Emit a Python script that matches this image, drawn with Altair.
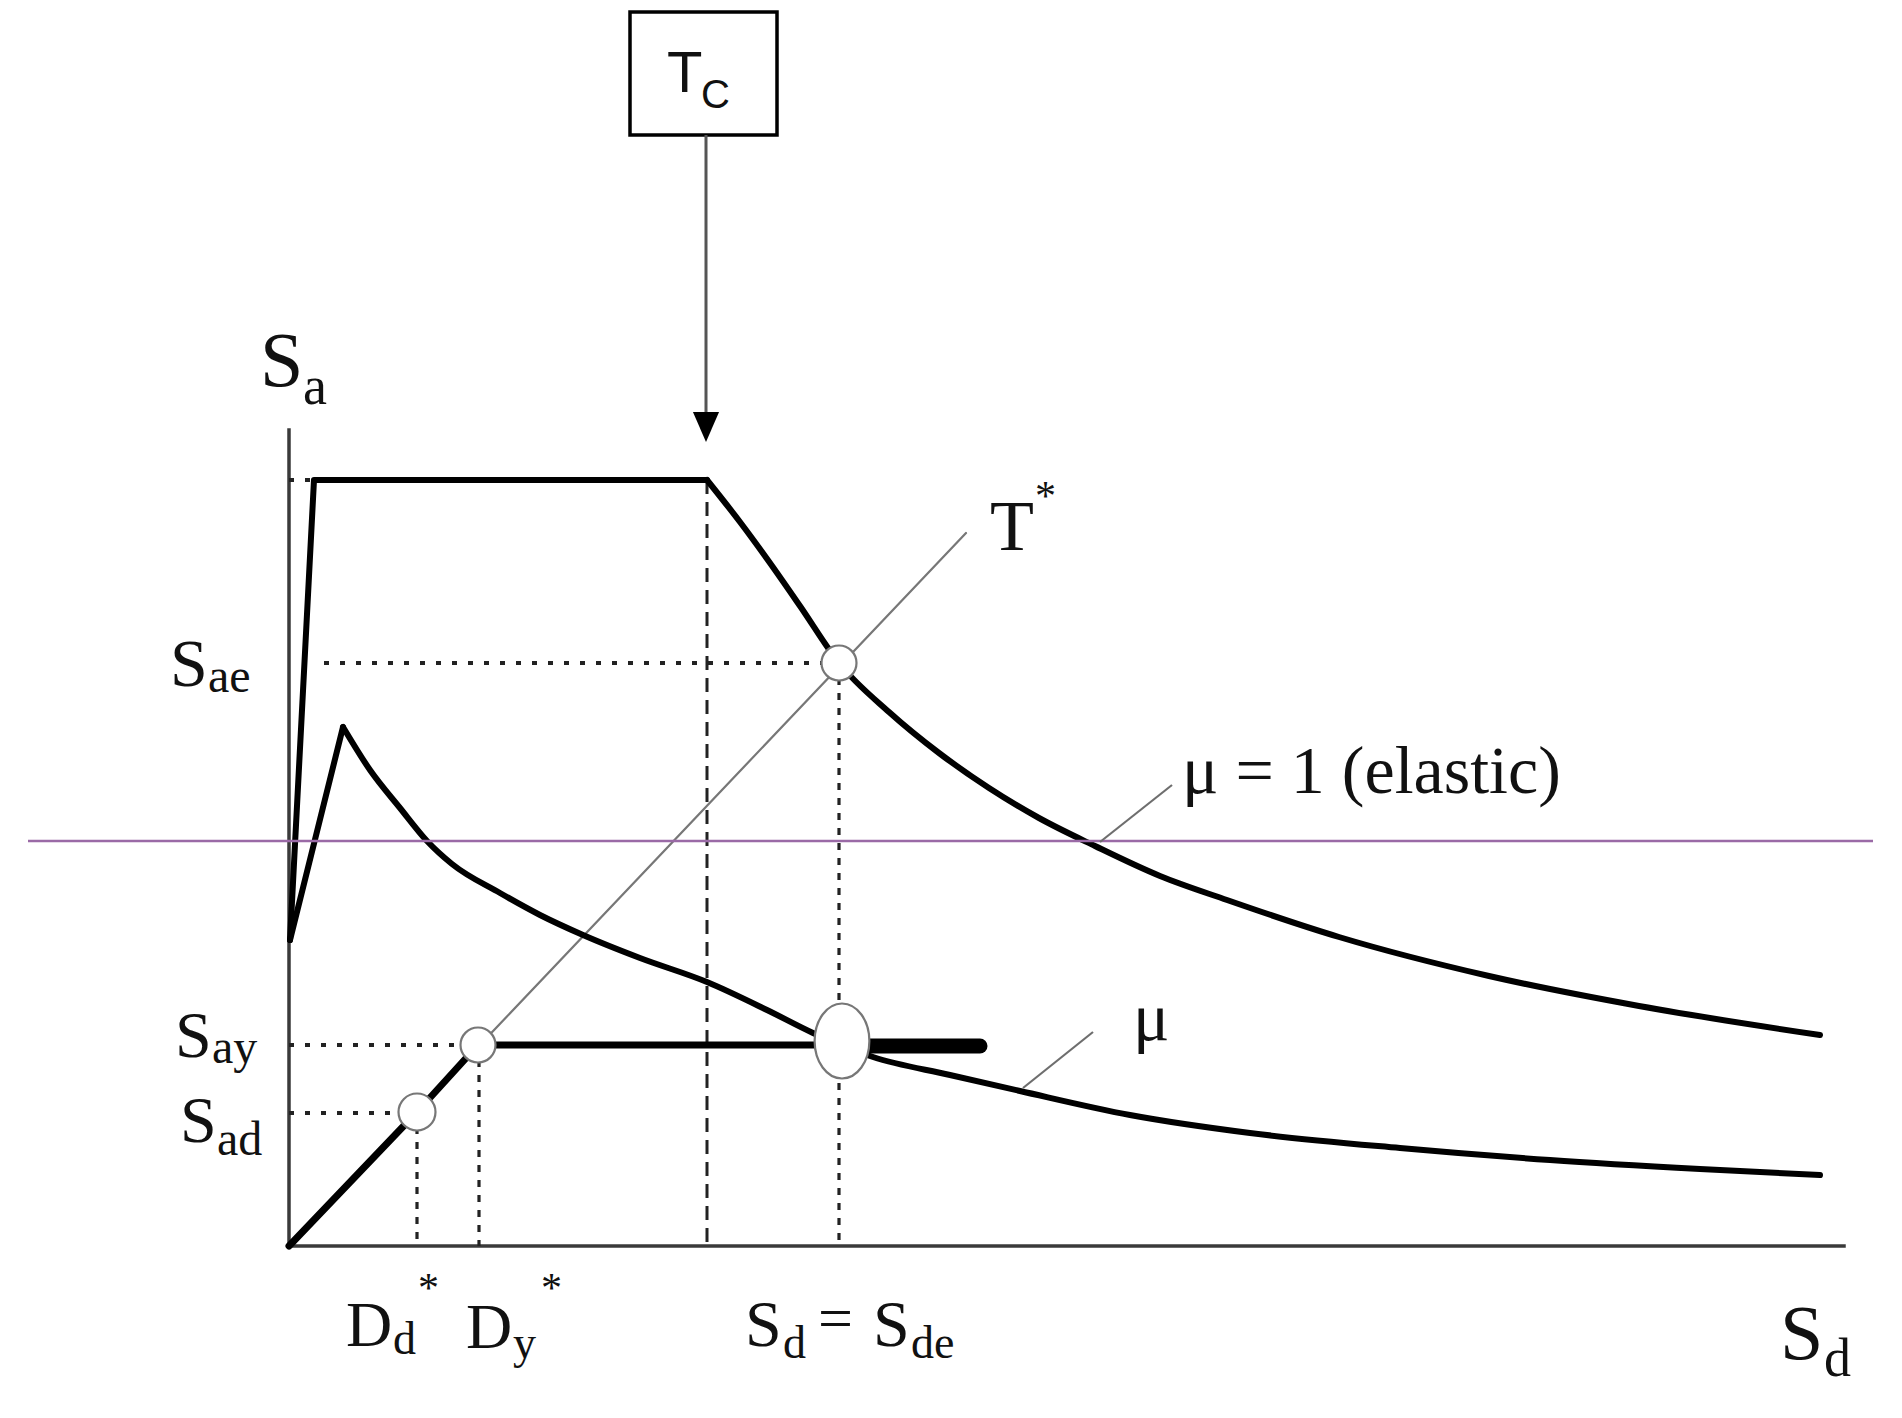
import altair as alt
import pandas as pd

# ---------------- data (units: Sd horizontal, Sa vertical) ----------------
# elastic spectrum: rising branch + plateau, then the decaying branch
elastic_rise_sd = [0.1, 2.5, 41.8]
elastic_rise_sa = [30.6, 76.6, 76.6]
elastic_decay_sd = [41.8, 45.1, 48.1, 51.1, 55.0, 60.0, 65.0, 70.0, 75.0,
                    80.6, 87.1, 93.8, 105.0, 120.0, 135.0, 153.1]
elastic_decay_sa = [76.6, 72.4, 68.3, 64.0, 58.3, 53.4, 49.3, 45.8, 42.8,
                    40.0, 37.0, 34.6, 30.9, 27.0, 24.0, 21.1]

# inelastic (mu) spectrum
mu_rise_sd = [0.1, 5.4]
mu_rise_sa = [30.6, 51.9]
mu_decay_sd = [5.4, 8.1, 11.1, 13.8, 16.3, 21.1, 25.1, 29.4, 35.1, 41.8, 47.8, 52.4,
               58.4, 66.1, 73.1, 84.1, 96.1, 111.1, 126.1, 141.1, 153.1]
mu_decay_sa = [51.9, 47.6, 43.8, 40.5, 38.2, 35.3, 33.1, 31.1, 28.8, 26.4, 23.6, 21.3,
               18.9, 17.1, 15.5, 13.1, 11.3, 9.8, 8.6, 7.7, 7.1]

bilinear_sd = [0.0, 12.8, 18.9, 55.3]
bilinear_sa = [0.0, 13.4, 20.1, 20.1]
plateau_end_sd = [55.3, 69.1]
plateau_end_sa = [20.0, 20.0]

tstar_sd = [0.0, 67.7]
tstar_sa = [0.0, 71.3]

# points: S_ad, S_ay, S_ae
circle_sd = [12.8, 18.9, 55.0]
circle_sa = [13.4, 20.1, 58.3]
circle_size = [1369, 1225, 1225]
perf_point_sd = [55.3]
perf_point_sa = [20.5]

# vertical guide lines
tc_sd, tc_sa = 41.8, 76.6
dashed_sd = [55.0, 12.8, 19.0]
dashed_top = [58.3, 13.4, 20.1]
# horizontal dotted guides
dotted_sa = [58.3, 20.1, 13.3, 76.6]
dotted_start = [3.5, 0.0, 0.0, 0.0]
dotted_end = [55.0, 18.9, 12.8, 2.5]

purple_sa = 40.5
purple_from, purple_to = -26.1, 158.4

leaders = [(81.1, 40.4, 88.3, 46.1), (73.4, 15.8, 80.4, 21.4)]

axis_y_top = 81.6
axis_x_end = 155.5

box = (34.1, 111.1, 48.8, 123.4)
arrow_sd, arrow_from, arrow_to = 41.7, 111.1, 83.3
arrow_head_sa = 81.9

serif_labels = [
    ("S", -2.9, 86.0, 78), ("a", 1.4, 84.2, 54),
    ("S", -11.9, 56.0, 68), ("ae", -8.1, 55.4, 48),
    ("S", -11.4, 18.9, 66), ("ay", -7.7, 18.3, 48),
    ("S", -10.9, 10.4, 66), ("ad", -7.2, 9.1, 48),
    ("D", 5.7, -10.0, 64), ("d", 10.4, -10.8, 46), ("*", 12.9, -5.6, 42),
    ("D", 17.7, -10.2, 64), ("y", 22.4, -11.2, 46), ("*", 25.2, -5.6, 42),
    ("S", 45.6, -10.0, 66), ("d", 49.4, -11.2, 46), ("=", 52.9, -9.3, 62),
    ("S", 58.4, -10.0, 66), ("de", 62.2, -11.2, 46),
    ("S", 149.1, -11.3, 78), ("d", 153.5, -13.0, 54),
    ("μ = 1 (elastic)", 89.3, 45.3, 68),
    ("μ", 84.4, 20.6, 68),
    ("T", 70.1, 69.6, 72), ("*", 74.6, 73.6, 42),
]
sans_labels = [("T", 37.8, 115.4, 58), ("C", 41.2, 113.8, 40)]

# ---------------- chart ----------------
W, H = 1880, 1395
xs = alt.Scale(domain=[-28.1, 159.9], nice=False, zero=False)
ys = alt.Scale(domain=[-15.7, 123.8], nice=False, zero=False)


def X():
    return alt.X("sd:Q", scale=xs, axis=None)


def Y():
    return alt.Y("sa:Q", scale=ys, axis=None)


def polyline(sd, sa, width, color="black", interp="linear"):
    df = pd.DataFrame({"sd": sd, "sa": sa, "i": list(range(len(sd)))})
    return alt.Chart(df).mark_line(color=color, strokeWidth=width, interpolate=interp,
                                   strokeJoin="round", strokeCap="round").encode(
        x=X(), y=Y(), order="i:Q")


def segs(rows, width, color, dash=None, cap="butt"):
    df = pd.DataFrame(rows, columns=["sd", "sa", "sd2", "sa2"])
    kw = dict(color=color, strokeWidth=width, strokeCap=cap)
    if dash:
        kw["strokeDash"] = dash
    return alt.Chart(df).mark_rule(**kw).encode(
        x=X(), y=Y(), x2="sd2:Q", y2="sa2:Q")


layers = []
# axes
layers.append(segs([(0, 0, 0, axis_y_top), (0, 0, axis_x_end, 0)], 3.5, "#3a3a3a", cap="square"))
# dashed verticals
layers.append(segs([(tc_sd, tc_sa, tc_sd, 0)], 3, "#222", dash=[14, 8]))
layers.append(segs([(s, t, s, 0) for s, t in zip(dashed_sd, dashed_top)], 3.2, "#222", dash=[7, 8]))
# dotted horizontals
layers.append(segs([(b, a, e, a) for a, b, e in zip(dotted_sa, dotted_start, dotted_end)],
                   4, "#222", dash=[5, 11]))
# T* line
layers.append(polyline(tstar_sd, tstar_sa, 2.2, "#777"))
# curves
layers.append(polyline(elastic_rise_sd, elastic_rise_sa, 6))
layers.append(polyline(elastic_decay_sd, elastic_decay_sa, 6, interp="monotone"))
layers.append(polyline(mu_rise_sd, mu_rise_sa, 6))
layers.append(polyline(mu_decay_sd, mu_decay_sa, 6, interp="monotone"))
layers.append(polyline(bilinear_sd, bilinear_sa, 7))
layers.append(alt.Chart(pd.DataFrame({"sd": plateau_end_sd, "sa": plateau_end_sa, "i": [0, 1]}))
              .mark_line(color="black", strokeWidth=15, strokeCap="round")
              .encode(x=X(), y=Y(), order="i:Q"))
# circles
layers.append(alt.Chart(pd.DataFrame({"sd": circle_sd, "sa": circle_sa, "s": circle_size}))
              .mark_point(shape="circle", filled=True, fill="white", stroke="#777",
                          strokeWidth=2.2, opacity=1, fillOpacity=1, strokeOpacity=1)
              .encode(x=X(), y=Y(), size=alt.Size("s:Q", scale=None)))
ELLIPSE = "M -0.73 0 A 0.73 1 0 1 0 0.73 0 A 0.73 1 0 1 0 -0.73 0 Z"
layers.append(alt.Chart(pd.DataFrame({"sd": perf_point_sd, "sa": perf_point_sa}))
              .mark_point(shape=ELLIPSE, size=5625, filled=True, fill="white", stroke="#777",
                          strokeWidth=2.2, opacity=1, fillOpacity=1, strokeOpacity=1)
              .encode(x=X(), y=Y()))
# purple horizontal line
layers.append(segs([(purple_from, purple_sa, purple_to, purple_sa)], 2.5, "#9a6aa6"))
# leader lines
layers.append(segs(leaders, 2.2, "#6e6e6e"))
# T_C box and arrow
layers.append(alt.Chart(pd.DataFrame([box], columns=["sd", "sa", "sd2", "sa2"]))
              .mark_rect(fill="white", stroke="black", strokeWidth=3.5)
              .encode(x=X(), y=Y(), x2="sd2:Q", y2="sa2:Q"))
layers.append(segs([(arrow_sd, arrow_from, arrow_sd, arrow_to)], 3, "#555"))
layers.append(alt.Chart(pd.DataFrame({"sd": [arrow_sd], "sa": [arrow_head_sa]}))
              .mark_point(shape="M -0.87 -1 L 0.87 -1 L 0 1 Z", size=900, filled=True,
                          fill="black", opacity=1, strokeWidth=0)
              .encode(x=X(), y=Y()))
# labels
sdf = pd.DataFrame(serif_labels, columns=["text", "sd", "sa", "fs"])
layers.append(alt.Chart(sdf).mark_text(font="Liberation Serif", align="left",
                                       baseline="alphabetic", color="#111")
              .encode(x=X(), y=Y(), text="text:N", size=alt.Size("fs:Q", scale=None)))
ndf = pd.DataFrame(sans_labels, columns=["text", "sd", "sa", "fs"])
layers.append(alt.Chart(ndf).mark_text(font="Liberation Sans", align="left",
                                       baseline="alphabetic", color="#111")
              .encode(x=X(), y=Y(), text="text:N", size=alt.Size("fs:Q", scale=None)))

chart = alt.layer(*layers).properties(
    width=W, height=H, padding=0, autosize="none"
).configure_view(stroke="transparent")

chart.save("out.html", embed_options={"renderer": "svg", "actions": False})
